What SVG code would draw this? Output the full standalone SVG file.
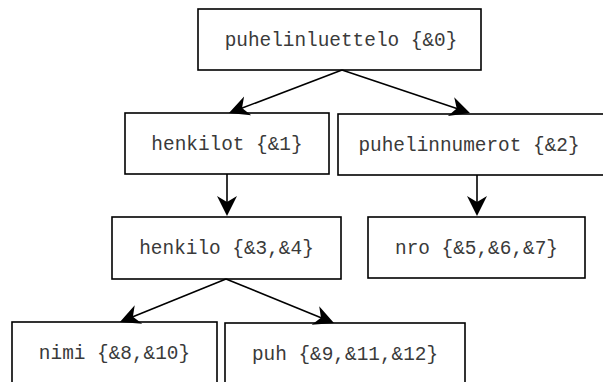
<svg xmlns="http://www.w3.org/2000/svg" width="603" height="382" viewBox="0 0 603 382">
<defs>
<style>
.box{fill:#fff;stroke:#000;stroke-width:1.6}
.lbl{font-family:"Liberation Mono","Courier New",monospace;font-size:19.4px;fill:#3a3a3a;text-anchor:middle}
.edge{stroke:#000;stroke-width:1.6;fill:none}
</style>
<marker id="arr" viewBox="-21 -11 22 22" refX="-10" refY="0" markerWidth="22" markerHeight="22" markerUnits="userSpaceOnUse" orient="auto">
<path d="M0,0 L-20,-10 L-14,0 L-20,10 Z" fill="#000"/>
</marker>
</defs>
<rect width="603" height="382" fill="#fff"/>
<g id="n0"><rect class="box" x="198" y="9" width="283" height="61"/><text class="lbl" x="341" y="46">puhelinluettelo {&amp;0}</text></g>
<g id="n1"><rect class="box" x="125" y="113" width="204" height="61"/><text class="lbl" x="227" y="150">henkilot {&amp;1}</text></g>
<g id="n2"><rect class="box" x="338" y="114" width="280" height="61"/><text class="lbl" x="469" y="151">puhelinnumerot {&amp;2}</text></g>
<g id="n3"><rect class="box" x="112" y="217" width="229" height="62"/><text class="lbl" x="226.5" y="254">henkilo {&amp;3,&amp;4}</text></g>
<g id="n4"><rect class="box" x="368" y="217" width="217" height="61"/><text class="lbl" x="476.5" y="254">nro {&amp;5,&amp;6,&amp;7}</text></g>
<g id="n5"><rect class="box" x="12" y="322" width="205" height="70"/><text class="lbl" x="114.5" y="359">nimi {&amp;8,&amp;10}</text></g>
<g id="n6"><rect class="box" x="225" y="323" width="240" height="70"/><text class="lbl" x="345" y="360">puh {&amp;9,&amp;11,&amp;12}</text></g>
<g id="edges">
<line class="edge" x1="342" y1="70" x2="238.3" y2="109.5" marker-end="url(#arr)"/>
<line class="edge" x1="342" y1="70" x2="460.5" y2="109.8" marker-end="url(#arr)"/>
<line class="edge" x1="227" y1="174" x2="227" y2="206" marker-end="url(#arr)"/>
<line class="edge" x1="477" y1="175" x2="477" y2="206" marker-end="url(#arr)"/>
<line class="edge" x1="226" y1="279" x2="129.2" y2="318.2" marker-end="url(#arr)"/>
<line class="edge" x1="226" y1="279" x2="324.7" y2="319.2" marker-end="url(#arr)"/>
</g>
</svg>
